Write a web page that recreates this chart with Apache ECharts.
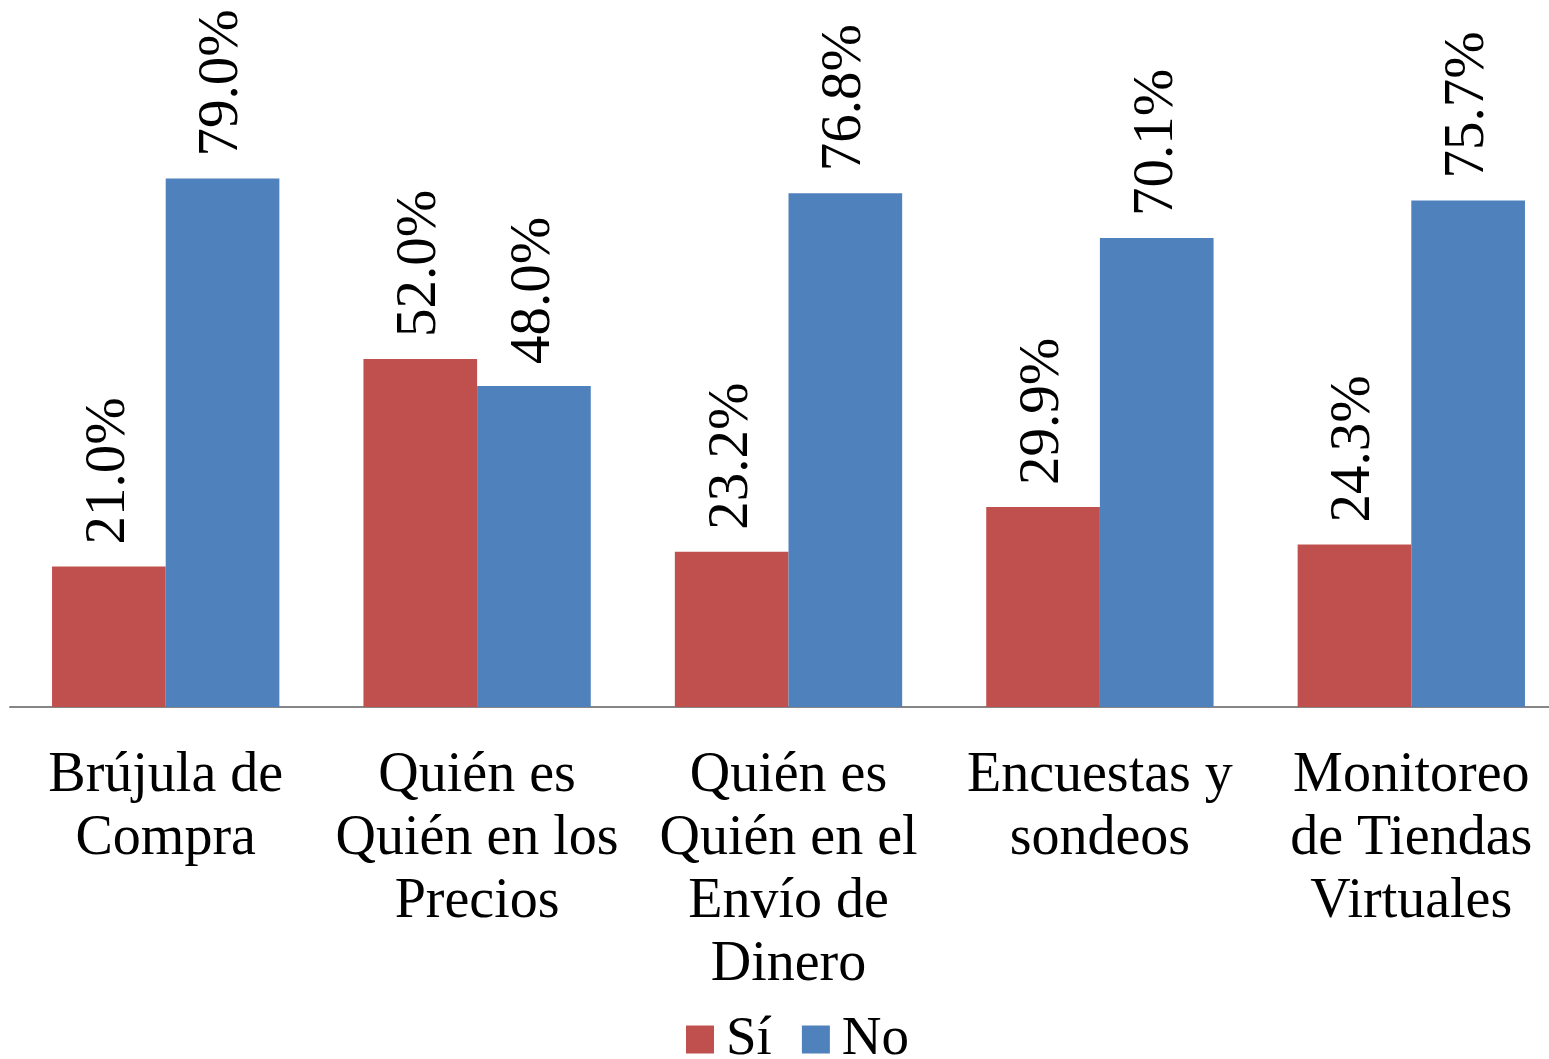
<!DOCTYPE html>
<html>
<head>
<meta charset="utf-8">
<script src="https://cdn.jsdelivr.net/npm/echarts@6/dist/echarts.min.js"></script>
<style>
html,body{margin:0;padding:0;background:#fff;}
#chart{width:1549px;height:1059px;}
</style>
</head>
<body>
<div id="chart"></div>
<script>
const categories = [
  "Brújula de\nCompra",
  "Quién es\nQuién en los\nPrecios",
  "Quién es\nQuién en el\nEnvío de\nDinero",
  "Encuestas y\nsondeos",
  "Monitoreo\nde Tiendas\nVirtuales"
];
const siValues = [21.0, 52.0, 23.2, 29.9, 24.3];
const noValues = [79.0, 48.0, 76.8, 70.1, 75.7];
const seriesNames = ["Sí", "No"];

const FONT = "'Liberation Serif', 'DejaVu Serif', serif";
const chart = echarts.init(document.getElementById('chart'));

const labelCfg = {
  show: true,
  position: 'top',
  rotate: 90,
  align: 'left',
  verticalAlign: 'middle',
  distance: 22,
  fontFamily: FONT,
  fontSize: 57,
  color: '#000',
  formatter: p => p.value.toFixed(1) + '%'
};

chart.setOption({
  animation: false,
  backgroundColor: '#fff',
  grid: { left: 10, width: 1557, top: 38, bottom: 352, containLabel: false, outerBoundsMode: 'none' },
  legend: {
    data: seriesNames,
    bottom: -13,
    left: 681,
    itemWidth: 28,
    itemHeight: 28,
    itemGap: 30,
    icon: 'rect',
    textStyle: { fontFamily: FONT, fontSize: 55, color: '#000', padding: [0, 0, 0, 7] }
  },
  xAxis: {
    type: 'category',
    data: categories,
    axisLine: { lineStyle: { color: '#868686', width: 2 } },
    axisTick: { show: false },
    axisLabel: {
      interval: 0,
      margin: 38,
      fontFamily: FONT,
      fontSize: 56,
      lineHeight: 63,
      color: '#000'
    }
  },
  yAxis: {
    type: 'value',
    min: 0,
    max: 100,
    show: false,
    splitLine: { show: false }
  },
  series: [
    {
      name: seriesNames[0],
      type: 'bar',
      data: siValues,
      barGap: '0%',
      barCategoryGap: '27%',
      itemStyle: { color: '#C0504D' },
      label: labelCfg
    },
    {
      name: seriesNames[1],
      type: 'bar',
      data: noValues,
      itemStyle: { color: '#4F81BD' },
      label: labelCfg
    }
  ]
});
</script>
</body>
</html>
